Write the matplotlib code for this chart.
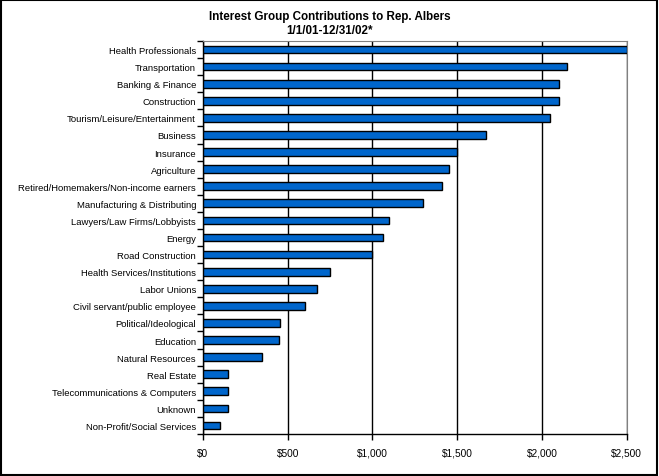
import matplotlib.pyplot as plt
from matplotlib.ticker import FuncFormatter, FixedLocator
from matplotlib.patches import Rectangle

plt.rcParams['font.family'] = ['Liberation Sans', 'DejaVu Sans']

groups = ["Health Professionals", "Transportation", "Banking & Finance", "Construction",
          "Tourism/Leisure/Entertainment", "Business", "Insurance", "Agriculture",
          "Retired/Homemakers/Non-income earners", "Manufacturing & Distributing",
          "Lawyers/Law Firms/Lobbyists", "Energy", "Road Construction",
          "Health Services/Institutions", "Labor Unions", "Civil servant/public employee",
          "Political/Ideological", "Education", "Natural Resources", "Real Estate",
          "Telecommunications & Computers", "Unknown", "Non-Profit/Social Services"]
amounts = [2500, 2150, 2100, 2100, 2050, 1670, 1500, 1450, 1410, 1300, 1100, 1060, 1000,
           750, 675, 600, 455, 450, 350, 150, 150, 150, 100]
x_ticks = [0, 500, 1000, 1500, 2000, 2500]

fig = plt.figure(figsize=(6.59, 4.77), dpi=100)
ax = fig.add_axes([0.308, 0.088, 0.643, 0.824])

pos = list(range(len(groups)))[::-1]
ax.barh(pos, amounts, height=0.45, color='#0066CC', edgecolor='black', linewidth=1, zorder=3)

ax.set_xlim(0, 2500)
ax.set_ylim(-0.5, len(groups) - 0.5)
ax.set_xticks(x_ticks)
ax.xaxis.set_major_formatter(FuncFormatter(lambda v, p: '${:,.0f}'.format(v)))
ax.set_yticks(pos)
ax.set_yticklabels(groups)
ax.yaxis.set_minor_locator(FixedLocator([p - 0.5 for p in range(len(groups) + 1)]))
ax.tick_params(axis='y', which='major', length=0, pad=5, labelsize=6.8)
ax.tick_params(axis='y', which='minor', length=4, width=1, direction='out')
ax.tick_params(axis='x', length=4, width=1, direction='out', labelsize=7.3, pad=6)
ax.grid(axis='x', color='black', linewidth=1, zorder=0)

ax.spines['top'].set_color('#808080')
ax.spines['right'].set_color('#808080')
for s in ['left', 'bottom']:
    ax.spines[s].set_linewidth(1)

fig.text(0.5, 0.965, "Interest Group Contributions to Rep. Albers", ha='center', va='center',
         fontsize=8.4, fontweight='bold')
fig.text(0.5, 0.936, "1/1/01-12/31/02*", ha='center', va='center', fontsize=8.4, fontweight='bold')

fig.patches.append(Rectangle((0.002, 0.003), 0.995, 0.994, transform=fig.transFigure,
                             fill=False, edgecolor='black', linewidth=1.5))

fig.savefig('out.png', dpi=100)
